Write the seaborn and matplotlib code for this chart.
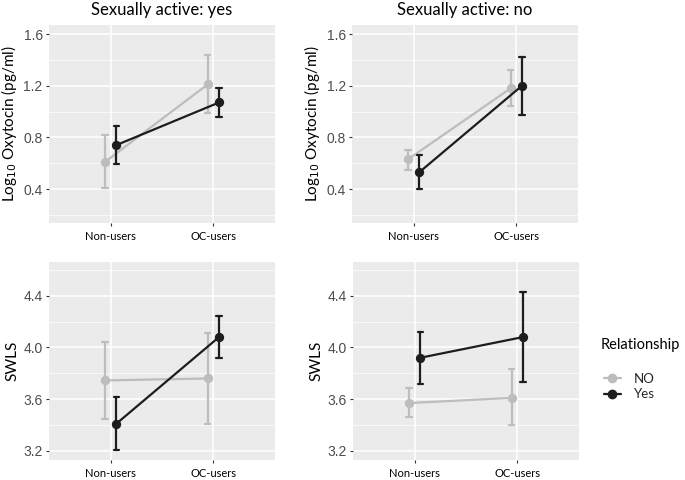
import matplotlib
matplotlib.use("Agg")
import matplotlib.pyplot as plt
from matplotlib.lines import Line2D
from matplotlib.ticker import MultipleLocator
import seaborn as sns
import pandas as pd

# categories
users = ["Non-users", "OC-users"]
relationship = ["NO", "Yes"]
panel_titles = ["Sexually active: yes", "Sexually active: no"]

# values per panel: rows = relationship (NO, Yes), cols = users (Non, OC)
oxy_yes_mean = [[0.61, 1.21], [0.74, 1.07]]
oxy_yes_low = [[0.41, 0.99], [0.59, 0.96]]
oxy_yes_high = [[0.82, 1.44], [0.89, 1.18]]

oxy_no_mean = [[0.63, 1.18], [0.53, 1.20]]
oxy_no_low = [[0.55, 1.04], [0.40, 0.97]]
oxy_no_high = [[0.70, 1.32], [0.66, 1.42]]

swls_yes_mean = [[3.745, 3.76], [3.41, 4.08]]
swls_yes_low = [[3.45, 3.41], [3.21, 3.92]]
swls_yes_high = [[4.04, 4.11], [3.615, 4.245]]

swls_no_mean = [[3.57, 3.61], [3.92, 4.08]]
swls_no_low = [[3.46, 3.40], [3.72, 3.73]]
swls_no_high = [[3.69, 3.835], [4.12, 4.43]]

palette = {"NO": "#bdbdbd", "Yes": "#1d1d1d"}
W, H = 685, 480


def build_frame(mean, low, high):
    # three rows per group: low / mean / high -> median gives mean, 100% interval gives CI
    rows = []
    for i, rel in enumerate(relationship):
        for j, u in enumerate(users):
            for v in (low[i][j], mean[i][j], high[i][j]):
                rows.append({"users": u, "Relationship": rel, "value": v})
    return pd.DataFrame(rows)


sns.set_theme(style="darkgrid", rc={
    "axes.facecolor": "#ebebeb",
    "grid.color": "white",
    "figure.facecolor": "white",
})
plt.rcParams["font.family"] = ["Lato", "DejaVu Sans"]

fig = plt.figure(figsize=(6.85, 4.8), dpi=100)

panels = [
    # (left px, top px, mean, low, high, ylim, ylabel, title)
    (49, 25, oxy_yes_mean, oxy_yes_low, oxy_yes_high, (0.137, 1.67),
     r"Log$_{10}$ Oxytocin (pg/ml)", panel_titles[0]),
    (352, 25, oxy_no_mean, oxy_no_low, oxy_no_high, (0.137, 1.67),
     r"Log$_{10}$ Oxytocin (pg/ml)", panel_titles[1]),
    (49, 262, swls_yes_mean, swls_yes_low, swls_yes_high, (3.13, 4.66),
     "SWLS", None),
    (353, 262, swls_no_mean, swls_no_low, swls_no_high, (3.13, 4.66),
     "SWLS", None),
]

for left, top, mean, low, high, ylim, ylabel, title in panels:
    ax = fig.add_axes([left / W, 1 - (top + 198) / H, 226 / W, 198 / H])
    df = build_frame(mean, low, high)
    sns.pointplot(data=df, x="users", y="value", hue="Relationship",
                  order=users, hue_order=relationship, palette=palette,
                  estimator="median", errorbar=("pi", 100), dodge=0.11,
                  capsize=0.05, markersize=5.5, linewidth=1.6,
                  err_kws={"linewidth": 1.6}, legend=False, ax=ax)
    ax.set_xlim(-0.6, 1.6)
    ax.set_ylim(*ylim)
    ax.yaxis.set_major_locator(MultipleLocator(0.4))
    ax.yaxis.set_minor_locator(MultipleLocator(0.2))
    ax.grid(True, which="major", axis="both", color="white", linewidth=1.1)
    ax.grid(True, which="minor", axis="y", color="white", linewidth=0.5)
    ax.set_axisbelow(True)
    for s in ax.spines.values():
        s.set_visible(False)
    ax.tick_params(axis="both", which="major", length=2.5, width=0.8,
                   color="#333333", direction="out", bottom=True, left=True)
    ax.tick_params(axis="both", which="minor", length=0)
    ax.tick_params(axis="x", labelsize=8, labelcolor="black", pad=3)
    ax.tick_params(axis="y", labelsize=10, labelcolor="#4d4d4d", pad=2)
    for lab in ax.get_yticklabels():
        lab.set_fontfamily("Liberation Sans")
    ax.set_xlabel("")
    ax.set_ylabel(ylabel, fontsize=11, color="black", labelpad=3)
    if title:
        ax.set_title(title, fontsize=12, color="black", pad=7)

fig.text(601 / W, 1 - 345 / H, "Relationship", fontsize=10.5,
         ha="left", va="center", color="black")
handles = [Line2D([], [], color=palette[r], marker="o", markersize=6,
                  linewidth=1.6) for r in relationship]
fig.legend(handles, relationship, loc="upper left",
           bbox_to_anchor=(592 / W, 1 - 361 / H), frameon=False,
           fontsize=9.5, handlelength=1.3, handletextpad=1.0,
           labelspacing=0.25)

fig.savefig("out.png", dpi=100)
